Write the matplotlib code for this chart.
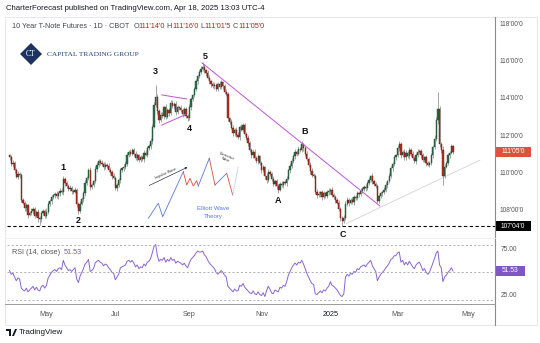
import numpy as np
import pandas as pd
import matplotlib
matplotlib.use("Agg")
import matplotlib.pyplot as plt
import matplotlib.transforms as mtransforms
from matplotlib.patches import Rectangle, Polygon

# ---- 10Y T-Note futures, daily bars (CBOT) ----
first_open = 110.95
closes = [
    110.85, 110.50, 110.55, 110.15, 109.80, 109.95, 109.90, 108.55, 108.40, 108.10,
    108.25, 107.75, 107.85, 107.95, 108.05, 107.70, 107.90, 107.55, 107.50, 107.85,
    107.95, 107.70, 107.90, 108.35, 108.50, 108.70, 108.80, 108.85, 108.75, 108.90,
    109.05, 108.95, 109.70, 109.45, 109.30, 109.15, 109.20, 109.05, 109.00, 109.10,
    108.30, 107.95, 108.35, 108.60, 108.90, 109.45, 109.75, 110.15, 109.25, 109.35,
    109.55, 110.20, 110.45, 110.65, 110.55, 110.50, 110.30, 110.45, 110.40, 110.15,
    110.05, 109.85, 109.75, 109.20, 109.35, 109.60, 110.15, 110.25, 110.35, 110.50,
    111.00, 111.15, 111.05, 111.25, 111.05, 110.80, 110.95, 110.70, 110.85, 110.75,
    111.10, 111.00, 111.35, 111.45, 111.75, 112.50, 113.70, 114.10, 113.35, 112.85,
    113.15, 113.10, 113.55, 113.05, 113.40, 113.25, 113.80, 113.60, 113.75, 113.30,
    113.55, 113.50, 113.40, 113.20, 113.45, 113.10, 112.95, 113.55, 114.00, 114.20,
    114.55, 114.95, 115.25, 115.45, 115.60, 115.75, 115.55, 115.40, 115.15, 114.95,
    114.80, 114.70, 114.75, 114.55, 114.80, 114.65, 114.90, 114.70, 114.40, 114.25,
    112.95, 112.75, 112.45, 112.15, 112.35, 112.05, 111.95, 112.50, 112.35, 112.60,
    112.10, 111.90, 111.60, 111.25, 110.95, 111.15, 110.80, 110.65, 110.90, 110.55,
    110.15, 110.30, 109.85, 109.60, 110.05, 109.95, 109.70, 109.40, 109.55, 109.30,
    109.10, 109.40, 109.35, 109.50, 109.45, 109.70, 110.15, 110.40, 110.65, 110.90,
    111.15, 111.05, 111.30, 111.25, 111.55, 111.35, 111.05, 110.75, 110.45, 110.10,
    109.90, 109.85, 109.00, 108.80, 108.85, 108.95, 108.70, 108.90, 108.75, 108.95,
    109.05, 109.10, 108.80, 108.70, 108.55, 108.40, 108.05, 107.55, 107.40, 107.55,
    108.35, 108.55, 108.40, 108.55, 108.45, 108.70, 108.65, 108.90, 108.85, 109.05,
    109.15, 109.25, 109.20, 109.45, 109.65, 109.85, 109.55, 109.40, 109.30, 108.50,
    108.75, 108.90, 108.95, 109.10, 109.35, 109.55, 109.85, 110.25, 110.50, 110.85,
    110.95, 111.35, 111.55, 110.95, 111.15, 110.85, 111.10, 110.90, 111.25, 111.05,
    110.80, 110.65, 110.95, 111.15, 111.20, 110.95, 110.70, 110.85, 110.55, 110.45,
    110.55, 110.95, 111.40, 111.85, 112.85, 113.45, 111.55, 111.25, 109.85, 110.35,
    110.55, 110.95, 111.10, 111.4375, 111.15625,
]
# wick lengths beyond the body, in 32nds
wick_hi = [
    3, 4, 5, 3, 4, 5, 3, 3, 4, 3,   5, 3, 4, 5, 3, 4, 3, 5, 4, 3,
    4, 3, 6, 5, 3, 4, 3, 4, 5, 3,   4, 5, 4, 3, 4, 3, 5, 4, 3, 4,
    3, 4, 5, 3, 4, 5, 3, 4, 5, 4,   3, 5, 4, 3, 4, 5, 3, 4, 3, 4,
    5, 3, 4, 3, 4, 5, 4, 3, 4, 5,   4, 3, 5, 4, 3, 4, 5, 3, 4, 3,
    4, 5, 3, 4, 5, 4, 4, 21, 5, 4,  4, 5, 3, 6, 4, 3, 5, 4, 3, 5,
    4, 3, 5, 4, 3, 4, 3, 5, 4, 3,   4, 5, 4, 3, 5, 8, 4, 3, 5, 4,
    3, 4, 5, 4, 3, 5, 4, 3, 4, 5,   4, 3, 5, 4, 3, 4, 5, 3, 4, 3,
    4, 3, 5, 4, 3, 4, 5, 3, 4, 3,   4, 5, 3, 4, 5, 3, 4, 5, 3, 4,
    3, 4, 5, 3, 4, 5, 3, 4, 5, 4,   4, 3, 5, 4, 6, 3, 4, 5, 3, 4,
    5, 4, 3, 4, 5, 3, 4, 5, 3, 4,   4, 3, 5, 4, 3, 4, 5, 3, 4, 5,
    4, 5, 3, 4, 5, 3, 4, 5, 3, 4,   3, 4, 5, 3, 4, 2, 5, 3, 4, 3,
    4, 5, 3, 4, 5, 3, 4, 5, 3, 4,   3, 5, 6, 4, 3, 5, 4, 3, 5, 4,
    4, 3, 5, 4, 3, 4, 5, 3, 4, 3,   4, 5, 3, 6, 5, 30, 5, 4, 6, 5,
    4, 5, 3, 4, 2,
]
wick_lo = [
    4, 3, 5, 4, 3, 4, 5, 4, 3, 5,   4, 5, 3, 4, 5, 4, 3, 6, 10, 4,
    3, 5, 4, 3, 4, 5, 3, 4, 3, 5,   4, 3, 5, 4, 3, 4, 3, 5, 4, 3,
    5, 5, 4, 3, 5, 4, 3, 4, 5, 3,   4, 3, 5, 4, 3, 4, 5, 3, 4, 3,
    4, 5, 3, 4, 5, 3, 4, 3, 5, 4,   3, 4, 5, 3, 4, 3, 5, 4, 3, 4,
    5, 3, 4, 3, 4, 5, 3, 4, 5, 4,   3, 4, 5, 4, 3, 5, 4, 3, 4, 5,
    4, 3, 4, 5, 3, 4, 5, 3, 4, 3,   3, 4, 5, 3, 4, 3, 4, 5, 3, 4,
    4, 3, 5, 4, 3, 4, 3, 5, 4, 3,   5, 4, 3, 4, 5, 3, 4, 5, 3, 4,
    3, 4, 5, 3, 4, 5, 3, 4, 5, 3,   4, 3, 5, 4, 3, 4, 5, 3, 4, 5,
    6, 3, 4, 5, 3, 4, 3, 5, 4, 3,   4, 5, 3, 4, 3, 5, 4, 3, 4, 5,
    3, 4, 4, 5, 3, 4, 5, 3, 4, 3,   4, 5, 3, 4, 5, 3, 4, 5, 8, 4,
    3, 4, 5, 3, 4, 5, 3, 4, 5, 3,   4, 3, 5, 4, 3, 4, 5, 3, 4, 4,
    3, 4, 5, 3, 4, 5, 3, 4, 5, 3,   4, 3, 5, 4, 3, 4, 5, 3, 4, 5,
    3, 4, 5, 3, 4, 5, 3, 4, 5, 3,   4, 3, 5, 4, 3, 6, 4, 5, 16, 4,
    3, 4, 5, 3, 3.5,
]
rsi = [
    52, 48, 49, 45, 41, 44, 43, 33, 31, 30,   33, 29, 31, 33, 35, 31, 34, 31, 30, 35,
    36, 33, 36, 44, 47, 50, 52, 53, 51, 54,   55, 53, 63, 58, 55, 52, 53, 51, 53, 55,
    43, 39, 46, 50, 54, 59, 61, 64, 51, 52,   54, 60, 62, 63, 61, 60, 57, 59, 58, 55,
    53, 50, 49, 42, 45, 48, 55, 56, 57, 58,   62, 63, 61, 63, 60, 56, 58, 54, 56, 55,
    59, 57, 61, 62, 65, 71, 78, 80, 68, 62,   64, 63, 66, 61, 64, 62, 66, 63, 64, 60,
    62, 61, 60, 58, 60, 57, 55, 60, 64, 66,   68, 71, 73, 72, 72, 73, 69, 67, 63, 60,
    58, 56, 54, 50, 48, 50, 52, 50, 47, 45,   35, 33, 31, 29, 32, 30, 30, 36, 35, 38,
    34, 32, 30, 28, 27, 30, 27, 26, 29, 26,   25, 28, 24, 30, 35, 32, 28, 27, 31, 30,
    29, 34, 33, 36, 35, 40, 47, 51, 55, 58,   60, 58, 61, 60, 63, 59, 54, 49, 45, 41,
    38, 37, 27, 26, 28, 30, 28, 31, 30, 33,   35, 40, 36, 35, 33, 31, 28, 25, 24, 27,
    45, 48, 46, 49, 48, 51, 50, 54, 53, 56,   57, 58, 56, 59, 61, 63, 57, 54, 51, 41,
    45, 48, 50, 52, 55, 57, 60, 64, 65, 68,   68, 71, 72, 61, 63, 58, 61, 58, 62, 59,
    56, 54, 58, 60, 61, 57, 52, 54, 50, 48,   50, 55, 60, 65, 71, 73, 58, 55, 40, 45,
    47, 50, 52, 55, 51.53,
]

holidays = ["2024-05-27", "2024-06-19", "2024-07-04", "2024-09-02", "2024-11-28",
            "2024-12-25", "2025-01-01", "2025-01-20", "2025-02-17", "2025-04-18",
            "2025-05-26"]
month_starts = ["2024-05-01", "2024-07-01", "2024-09-01", "2024-11-01",
                "2025-01-01", "2025-03-01", "2025-05-01"]
month_labels = ["May", "Jul", "Sep", "Nov", "2025", "Mar", "May"]
price_ticks = [108, 110, 112, 114, 116, 118]
rsi_ticks = [25, 75]
rsi_bands = [20, 50, 80]
support_level = 107.125
last_ohlc = (111.4375, 111.5, 111.046875, 111.15625)

wave_labels = {"1": (32, 110.32), "2": (41, 107.41), "3": (86.6, 115.51),
               "4": (106.8, 112.38), "5": (116.4, 116.27), "A": (159.8, 108.54),
               "B": (175.9, 112.27), "C": (198.5, 106.70)}
trend_line = [(114.6, 115.95), (220.5, 108.22)]
tri_upper = [(90.6, 114.22), (105.5, 114.00)]
tri_lower = [(90.6, 112.59), (105.1, 113.17)]
support_line = [(200.7, 107.28), (280.1, 110.70)]

# ---- calendar ----
cal = pd.bdate_range("2024-04-01", "2025-06-30")
cal = cal[~cal.isin(pd.to_datetime(holidays))]
n = len(closes)
dates = cal[:n]
assert dates[-1] == pd.Timestamp("2025-04-17")
tick_pos = [int(np.argmax(cal >= pd.Timestamp(m))) for m in month_starts]

c = np.array(closes, dtype=float)
o = np.concatenate([[first_open], c[:-1]])
hi = np.maximum(o, c) + np.array(wick_hi) / 32
lo = np.minimum(o, c) - np.array(wick_lo) / 32
x = np.arange(n)


def fmt32(p):
    whole = int(np.floor(p))
    f = (p - whole) * 32
    t = int(np.floor(f + 1e-9))
    half = int(round((f - t) * 10))
    return f"{whole}'{t:02d}'{half}"


W, H = 540, 343
fig = plt.figure(figsize=(W / 100, H / 100), dpi=100)
plt.rcParams["font.family"] = ["Liberation Sans", "DejaVu Sans"]


def px_rect(x0, y0, x1, y1):
    return [x0 / W, 1 - y1 / H, (x1 - x0) / W, (y1 - y0) / H]


def fx(px):
    return px / W


def fy(py):
    return 1 - py / H


# outer pane frame
fig.add_artist(Rectangle((fx(5), fy(325)), fx(532), (320 - 12) / H, fill=False,
                         edgecolor="#e3e3e3", lw=0.6, transform=fig.transFigure))

ax = fig.add_axes(px_rect(7, 17, 495, 238))
ax2 = fig.add_axes(px_rect(7, 238, 495, 304), sharex=ax)
for a in (ax, ax2):
    for s in a.spines.values():
        s.set_visible(False)
    a.tick_params(left=False, right=False, bottom=False, top=False,
                  labelleft=False, labelbottom=False)
    a.set_facecolor("none")

ax.set_xlim(-1.5, 289.0)
ax.set_ylim(106.49, 118.43)
ax2.set_ylim(15.9, 87.1)

# candles
up = c >= o
ax.vlines(x, lo, hi, color="#8d8d8d", lw=0.55, zorder=2)
body = np.maximum(np.abs(c - o), 0.03)
ax.bar(x[up], body[up], bottom=np.minimum(o, c)[up], width=0.75,
       color="#2a7148", edgecolor="#1a4a30", lw=0.3, zorder=3)
ax.bar(x[~up], body[~up], bottom=np.minimum(o, c)[~up], width=0.75,
       color="#b03424", edgecolor="#6e170e", lw=0.3, zorder=3)

# drawings
ax.axhline(support_level, color="black", lw=0.8, dashes=(3, 2.2), zorder=4)
ax.plot(*zip(*trend_line), color="#bd55d4", lw=0.7, zorder=4)
ax.plot(*zip(*tri_upper), color="#bd55d4", lw=0.7, zorder=4)
ax.plot(*zip(*tri_lower), color="#bd55d4", lw=0.7, zorder=4)
ax.plot(*zip(*support_line), color="#d4d4d4", lw=0.6, zorder=1)
for lab, (bx, by) in wave_labels.items():
    ax.text(bx, by, lab, fontsize=6.5, fontweight="semibold", color="#111111",
            ha="center", va="center", zorder=6, clip_on=False)

# Elliott wave sketch
ins = fig.add_axes(px_rect(140, 145, 245, 225))
ins.set_xlim(140, 245)
ins.set_ylim(225, 145)
ins.axis("off")
impulse = [(148.3, 218.3), (158.3, 203.3), (162.7, 216.7), (183.3, 171.7)]
wave4 = [(183.3, 171.7), (186.7, 185), (190, 178.3), (193.3, 186), (196.7, 180.7), (198.3, 186)]
wave5 = [(198.3, 186), (209.3, 158.3)]
corr = [(209.3, 158.3), (215, 185), (226.7, 173.3), (232.7, 195)]
nxt = [(232.7, 195), (238.3, 166.7)]
ins.plot(*zip(*impulse), color="#5a78e0", lw=0.6)
ins.plot(*zip(*wave4), color="#e04a3c", lw=0.6)
ins.plot(*zip(*wave5), color="#5a78e0", lw=0.6)
ins.plot(*zip(*corr[:2]), color="#e04a3c", lw=0.6)
ins.plot(*zip(*corr[1:3]), color="#5a78e0", lw=0.6)
ins.plot(*zip(*corr[2:]), color="#e04a3c", lw=0.6)
ins.plot(*zip(*nxt), color="#9fb3f0", lw=0.6, ls=(0, (1.5, 1)))
ins.annotate("", xy=(190, 166), xytext=(146.7, 186.7),
             arrowprops=dict(arrowstyle="-|>", lw=0.5, color="#333333", mutation_scale=3))
ins.text(166, 173.5, "Impulse Wave", fontsize=2.6, rotation=24, color="#333333",
         ha="center", va="center")
ins.text(226, 158, "Corrective\nWave", fontsize=2.6, rotation=-22, color="#333333",
         ha="center", va="center", linespacing=0.9)
ins.text(213, 208, "Elliott Wave", fontsize=4.4, color="#5a78e0", ha="center", va="center")
ins.text(213, 216, "Theory", fontsize=4.4, color="#5a78e0", ha="center", va="center")

# RSI pane
ax2.plot(x, rsi, color="#8a63d2", lw=0.7)
for b in rsi_bands:
    ax2.axhline(b, color="#a3a3a3", lw=0.6, dashes=(2.5, 2.5))

# axis lines
fig.add_artist(plt.Line2D([fx(495), fx(495)], [fy(17), fy(325)], color="#8a8a8a",
                          lw=0.8, transform=fig.transFigure))
fig.add_artist(plt.Line2D([fx(5), fx(495)], [fy(304), fy(304)], color="#9a9a9a",
                          lw=0.7, transform=fig.transFigure))
fig.add_artist(plt.Line2D([fx(5), fx(495)], [fy(238), fy(238)], color="#ececec",
                          lw=0.6, transform=fig.transFigure))

# price scale
bt = mtransforms.blended_transform_factory(ax.transAxes, ax.transData)
for p in price_ticks:
    ax.text(1.009, p, fmt32(p), transform=bt, fontsize=4.8, color="#555555",
            va="center", ha="left", clip_on=False)
bt2 = mtransforms.blended_transform_factory(ax2.transAxes, ax2.transData)
for r in rsi_ticks:
    ax2.text(1.011, r, f"{r:.2f}", transform=bt2, fontsize=4.8, color="#555555",
             va="center", ha="left", clip_on=False)


def tag(axis, value, text, color, x1=531):
    ypx = axis.transData.transform((0, value))[1]
    fig.add_artist(Rectangle((fx(495), (ypx - 5) / H), (x1 - 495) / W, 10 / H,
                             facecolor=color, edgecolor="none", transform=fig.transFigure))
    fig.text(fx((495 + x1) / 2), ypx / H, text, fontsize=4.8, color="white",
             ha="center", va="center")


tag(ax, c[-1], fmt32(c[-1]), "#df513d")
tag(ax, support_level, fmt32(support_level), "#000000")
tag(ax2, rsi[-1], f"{rsi[-1]:.2f}", "#7e57c2", x1=525)

# time scale
for pos, lab in zip(tick_pos, month_labels):
    ax2.text(pos, -0.11, lab, transform=mtransforms.blended_transform_factory(
        ax2.transData, ax2.transAxes), fontsize=5.2, ha="center", va="top",
        color="#131722" if lab.isdigit() else "#555555", clip_on=False)

# legends
fig.text(fx(6), fy(9), "CharterForecast published on TradingView.com, Apr 18, 2025 13:03 UTC-4",
         fontsize=5.6, color="#131722", va="center")
hdr = fig.text(fx(12), fy(27), "10 Year T-Note Futures \u00b7 1D \u00b7 CBOT  ",
               fontsize=5.2, color="#434651", va="center")
prev = hdr
for letter, val in zip("OHLC", last_ohlc):
    t1 = plt.annotate(" " + letter if letter != "O" else letter, xy=(1, 0), xycoords=prev,
                      va="bottom", fontsize=5.2, color="#434651")
    t2 = plt.annotate(fmt32(val), xy=(1, 0), xycoords=t1, va="bottom",
                      fontsize=5.2, color="#9b2a22")
    prev = t2

rl = fig.text(fx(12), fy(252), "RSI (14, close)  ", fontsize=5.2, color="#555555", va="center")
plt.annotate(f"{rsi[-1]:.2f}", xy=(1, 0), xycoords=rl, va="bottom", fontsize=5.2,
             color="#7e57c2")

# logo
fig.add_artist(Polygon([(fx(31), fy(43)), (fx(42), fy(54)), (fx(31), fy(65)), (fx(20), fy(54))],
                       closed=True, facecolor="#1d3461", edgecolor="none",
                       transform=fig.transFigure))
fig.text(fx(31), fy(54.5), "CT", fontsize=5.5, color="white", family="Liberation Serif",
         ha="center", va="center")
fig.text(fx(47), fy(55), "CAPITAL TRADING GROUP", fontsize=5.3, color="#23407a",
         family="Liberation Serif", va="center")

# footer
fig.add_artist(Rectangle((fx(6), fy(331)), 5 / W, 2 / H, facecolor="#131722",
                         transform=fig.transFigure))
fig.add_artist(Rectangle((fx(8.5), fy(336)), 2 / W, 5 / H, facecolor="#131722",
                         transform=fig.transFigure))
fig.add_artist(Polygon([(fx(12), fy(336)), (fx(15), fy(329)), (fx(17), fy(329)), (fx(14), fy(336))],
                       facecolor="#131722", transform=fig.transFigure))
fig.text(fx(19), fy(333), "TradingView", fontsize=5.8, color="#131722", va="center")

fig.savefig("out.png", dpi=100)
